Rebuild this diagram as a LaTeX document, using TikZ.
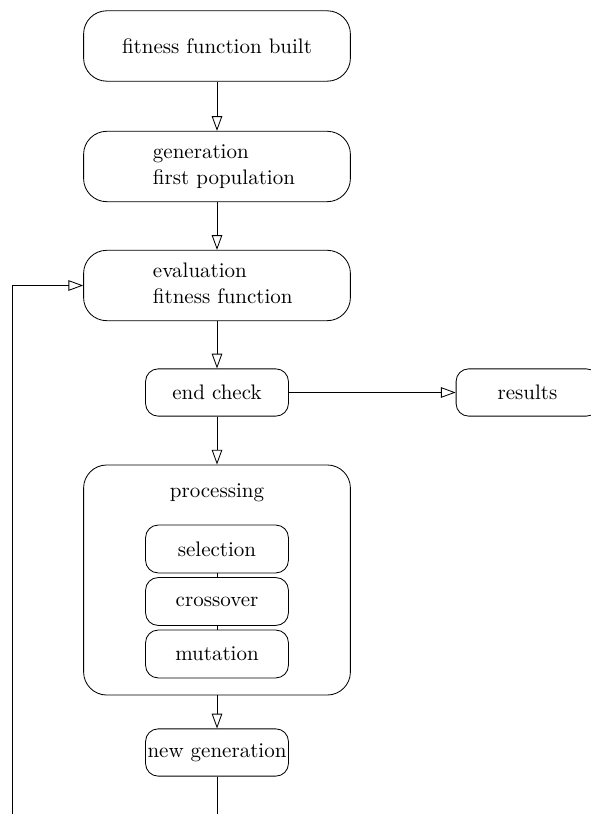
\documentclass[tikz,border=0pt]{standalone}
\usetikzlibrary{arrows.meta}
\tikzset{
	bigbox/.style={draw, rounded corners=11pt, minimum width=127pt, minimum height=33.5pt, inner sep=0pt},
	smallbox/.style={draw, rounded corners=6pt, minimum width=68pt, minimum height=22.5pt, inner sep=0pt},
	flow/.style={-{Triangle[open,length=7pt,width=5pt]}}
}
\newcommand{\twolines}[2]{\makebox[61pt][l]{\begin{tabular}{@{}l@{}}#1\\#2\end{tabular}}}
\begin{document}
\begin{tikzpicture}[x=0.476pt, y=-0.476pt]
	\useasboundingbox (0, 0) rectangle (591, 814);
	\node [bigbox] (built) at (217, 46) {fitness function built};
	\node [bigbox] (firstpop) at (217, 166.5) {\twolines{generation}{first population}};
	\node [bigbox] (evalfit) at (217, 285.5) {\twolines{evaluation}{fitness function}};
	\node [smallbox] (endcheck) at (217, 392.5) {end check};
	\node [smallbox] (results) at (527.5, 392.5) {results};
	\node [bigbox, minimum height=109.5pt] (proc) at (217, 580) {};
	\node (proclabel) at (217, 493) {processing};
	\node [smallbox, minimum height=22.8pt] (select) at (217, 549) {selection};
	\node [smallbox, minimum height=22.8pt] (cross) at (217, 601.5) {crossover};
	\node [smallbox, minimum height=22.8pt] (mutate) at (217, 654) {mutation};
	\node [smallbox] (newgen) at (217, 752.5) {new generation};
	\coordinate (out) at (217, 814);
	\coordinate (back) at (12, 814);
	\draw [flow] (built) -- (firstpop);
	\draw [flow] (firstpop) -- (evalfit);
	\draw [flow] (evalfit) -- (endcheck);
	\draw [flow] (endcheck) -- (results);
	\draw [flow] (endcheck) -- (proc);
	\draw (select) -- (cross);
	\draw (cross) -- (mutate);
	\draw [flow] (proc) -- (newgen);
	\draw (newgen) -- (out);
	\draw [flow] (back) |- (evalfit);
\end{tikzpicture}
\end{document}
